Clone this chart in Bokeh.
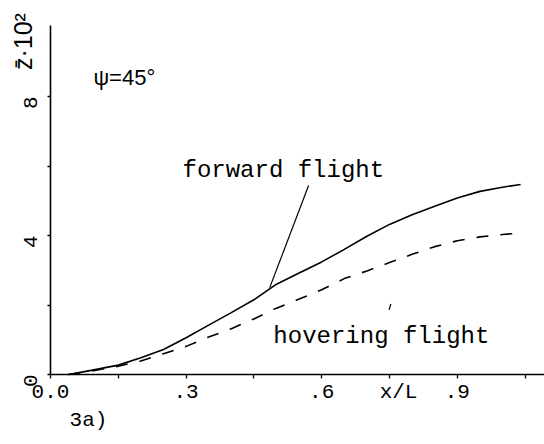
import math
from bokeh.plotting import figure
from bokeh.models import FixedTicker, CustomJSTickFormatter, Label
from bokeh.embed import file_html
from bokeh.resources import INLINE

# Deflection z̄·10² along the blade, ψ = 45°
x_forward = [0.04, 0.09, 0.15, 0.20, 0.25, 0.30, 0.35, 0.40, 0.45, 0.50, 0.55,
             0.60, 0.65, 0.70, 0.75, 0.80, 0.85, 0.90, 0.95, 1.00, 1.04]
z_forward = [0.00, 0.12, 0.27, 0.48, 0.72, 1.06, 1.42, 1.78, 2.15, 2.60, 2.92,
             3.24, 3.60, 3.98, 4.32, 4.60, 4.84, 5.08, 5.27, 5.39, 5.47]

x_hover = [0.04, 0.09, 0.15, 0.20, 0.25, 0.30, 0.35, 0.40, 0.45, 0.50, 0.55,
           0.60, 0.65, 0.70, 0.75, 0.80, 0.85, 0.90, 0.95, 1.00, 1.04]
z_hover = [0.00, 0.10, 0.24, 0.39, 0.60, 0.81, 1.08, 1.32, 1.60, 1.91, 2.17,
           2.44, 2.76, 2.98, 3.22, 3.46, 3.68, 3.85, 3.96, 4.03, 4.07]

x_major = [0.0, 0.3, 0.6, 0.9]
x_minor = [0.15, 0.45, 0.75, 1.05]
y_major = [0, 4, 8]
y_minor = [2, 6]

MONO = "Liberation Mono"
SANS = "Liberation Sans"

# The frame fills the whole page; the axes sit at x=0 and z=0 so the
# annotations around them stay inside the drawing area.
p = figure(width=544, height=444, output_backend="svg", toolbar_location=None,
           x_range=(-0.1106, 1.0929), y_range=(-2.014, 10.763),
           min_border=0, min_border_left=0, min_border_right=0,
           min_border_top=0, min_border_bottom=0)
p.title.visible = False
p.outline_line_color = None
p.xgrid.visible = False
p.ygrid.visible = False
p.background_fill_color = "white"
p.border_fill_color = "white"

# x axis
xa = p.xaxis[0]
xa.fixed_location = 0
xa.bounds = (0, 1.0929)
xa.ticker = FixedTicker(ticks=x_major, minor_ticks=x_minor)
xa.formatter = CustomJSTickFormatter(
    code="return tick == 0 ? '0.0' : tick.toFixed(1).replace(/^0/, '')")
xa.axis_line_width = 1.6
xa.axis_line_color = "black"
xa.major_tick_out = 4
xa.major_tick_in = 0
xa.minor_tick_out = 4
xa.minor_tick_in = 0
xa.major_tick_line_width = 1.3
xa.minor_tick_line_width = 1.3
xa.major_label_standoff = 6
xa.major_label_text_font = MONO
xa.major_label_text_font_size = "21px"
xa.major_label_text_color = "black"

# y axis
ya = p.yaxis[0]
ya.fixed_location = 0
ya.bounds = (0, 10.04)
ya.ticker = FixedTicker(ticks=y_major, minor_ticks=y_minor)
ya.axis_line_width = 1.6
ya.axis_line_color = "black"
ya.major_tick_out = 3
ya.major_tick_in = 0
ya.minor_tick_out = 3
ya.minor_tick_in = 0
ya.major_tick_line_width = 1.3
ya.minor_tick_line_width = 1.3
ya.major_label_orientation = math.pi / 2
ya.major_label_standoff = 17
ya.major_label_text_font = MONO
ya.major_label_text_font_size = "21px"
ya.major_label_text_color = "black"

# curves
p.line(x_forward, z_forward, line_color="black", line_width=1.6)
p.line(x_hover, z_hover, line_color="black", line_width=1.6, line_dash="12 12")

# leader lines for the curve labels
p.line([0.571, 0.485], [5.44, 2.50], line_color="black", line_width=1.2)
p.line([0.753, 0.749], [2.03, 1.86], line_color="black", line_width=1.2)

def add_label(x, y, text, font, size, align="left", baseline="alphabetic", angle=0.0):
    p.add_layout(Label(x=x, y=y, text=text, text_font=font, text_font_size=size,
                       text_align=align, text_baseline=baseline, angle=angle,
                       text_color="black"))

add_label(0.292, 5.87, "forward flight", MONO, "24px")
add_label(0.493, 1.09, "hovering flight", MONO, "24px")
add_label(0.095, 8.55, "ψ=45°", SANS, "22px")
add_label(-0.060, 9.58, "z\u0304·10²", SANS, "25px", align="center",
          baseline="middle", angle=math.pi / 2)
add_label(0.770, -0.52, "x/L", MONO, "21px", align="center", baseline="middle")
add_label(0.084, -1.32, "3a)", MONO, "21px", align="center", baseline="middle")

open("out.html", "w").write(file_html(p, INLINE))
